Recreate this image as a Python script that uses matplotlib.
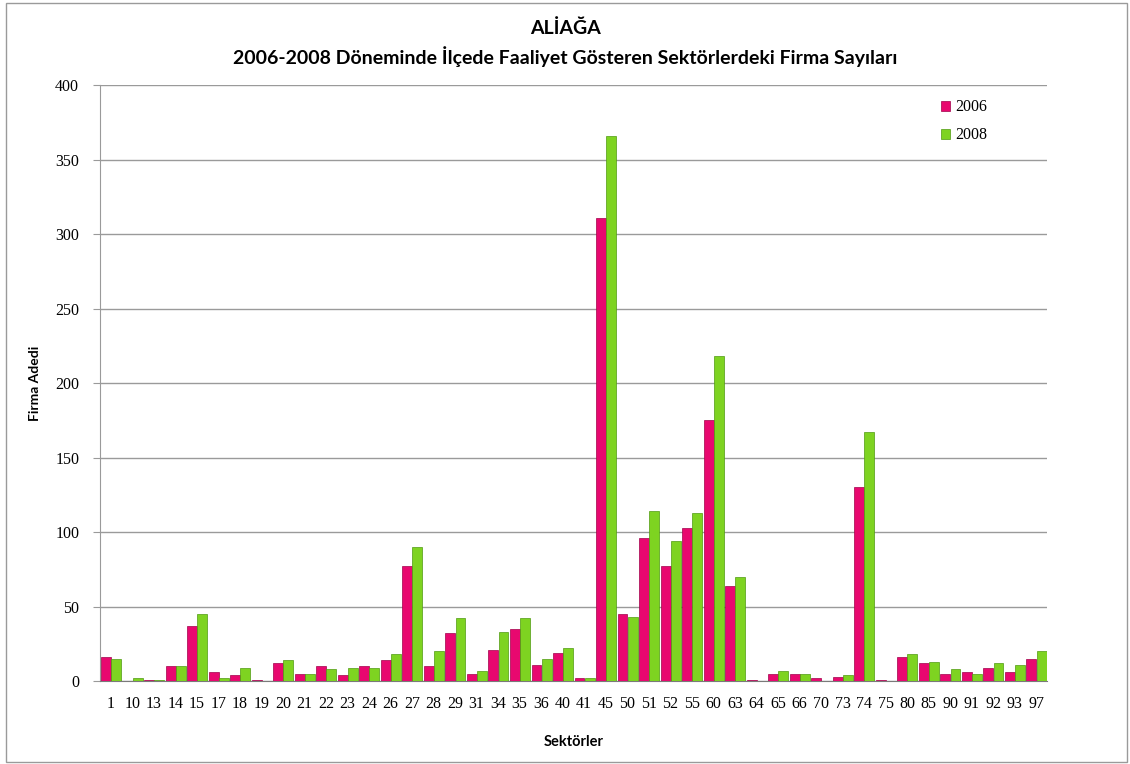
import numpy as np
import matplotlib.pyplot as plt
from matplotlib.patches import Rectangle

sektorler = ["1", "10", "13", "14", "15", "17", "18", "19", "20", "21", "22",
             "23", "24", "26", "27", "28", "29", "31", "34", "35", "36", "40",
             "41", "45", "50", "51", "52", "55", "60", "63", "64", "65", "66",
             "70", "73", "74", "75", "80", "85", "90", "91", "92", "93", "97"]
firma_2006 = [16, 0, 0.6, 10, 37, 6, 4, 0.6, 12, 5, 10,
              4, 10, 14, 77, 10, 32, 5, 21, 35, 11, 19,
              2, 311, 45, 96, 77, 103, 175, 64, 0.6, 5, 5,
              2, 3, 130, 0.6, 16, 12, 5, 6, 9, 6, 15]
firma_2008 = [15, 2, 0.6, 10, 45, 2, 9, 0, 14, 5, 8,
              9, 9, 18, 90, 20, 42, 7, 33, 42, 15, 22,
              2, 366, 43, 114, 94, 113, 218, 70, 0, 7, 5,
              0, 4, 167, 0, 18, 13, 8, 5, 12, 11, 20]

pembe = "#e8086f"
yesil = "#7ed321"

fig = plt.figure(figsize=(11.3, 7.64), dpi=100)
fig.patches.append(Rectangle((0.005, 0.003), 0.992, 0.993, transform=fig.transFigure,
                             fill=False, edgecolor="#9a9a9a", linewidth=1.0))
ax = fig.add_axes([0.0885, 0.1086, 0.838, 0.780])

x = np.arange(len(sektorler))
w = 0.46
ax.bar(x - w / 2 + 0.01, firma_2006, width=w, color=pembe, edgecolor="#a0004a",
       linewidth=0.5, label="2006", zorder=3)
ax.bar(x + w / 2 + 0.02, firma_2008, width=w, color=yesil, edgecolor="#4f9a10",
       linewidth=0.5, label="2008", zorder=3)

ax.set_xlim(-0.5, len(sektorler) - 0.5)
ax.set_ylim(0, 400)
ax.set_yticks(np.arange(0, 401, 50))
ax.set_xticks(x)
ax.set_xticklabels(sektorler, fontfamily="Liberation Serif", fontsize=11.5)
for lbl in ax.get_yticklabels():
    lbl.set_fontfamily("Liberation Serif")
    lbl.set_fontsize(11.5)
ax.grid(axis="y", color="#9a9a9a", linewidth=1.0, zorder=0)
ax.tick_params(axis="y", length=5, color="#9a9a9a", pad=10)
ax.tick_params(axis="x", length=0, pad=11)
for s in ["top", "right"]:
    ax.spines[s].set_visible(False)
ax.spines["left"].set_color("#9a9a9a")
ax.spines["bottom"].set_color("#7a7a7a")

ax.set_ylabel("Firma Adedi", fontfamily="Lato", fontweight="bold", fontsize=10, labelpad=10)
ax.set_xlabel("Sektörler", fontfamily="Lato", fontweight="bold", fontsize=10.5, labelpad=16)

fig.text(0.5, 0.963, "ALİAĞA", ha="center", va="center", fontfamily="Lato",
         fontweight="bold", fontsize=14)
fig.text(0.5, 0.926, "2006-2008 Döneminde İlçede Faaliyet Gösteren Sektörlerdeki Firma Sayıları",
         ha="center", va="center", fontfamily="Lato", fontweight="bold", fontsize=14)

leg = ax.legend(loc="upper right", bbox_to_anchor=(0.952, 1.0), frameon=False,
                prop={"family": "Liberation Serif", "size": 11.5},
                handlelength=0.6, handleheight=0.6, handletextpad=0.3, labelspacing=0.75)

fig.savefig("out.png", dpi=100)
